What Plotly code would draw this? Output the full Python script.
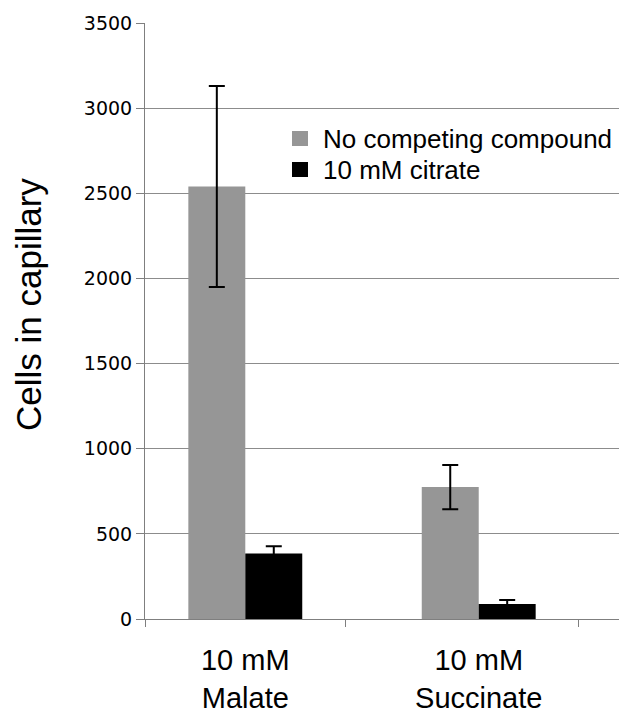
import plotly.graph_objects as go

categories = ["10 mM<br>Malate", "10 mM<br>Succinate"]
series_names = ["No competing compound", "10 mM citrate"]
series_colors = ["#969696", "#000000"]
no_competing = [2540, 775]
no_competing_err = [590, 130]
citrate = [385, 88]
citrate_err = [42, 24]
y_ticks = [0, 500, 1000, 1500, 2000, 2500, 3000, 3500]

xpos = list(range(len(categories)))
bw = 0.244

fig = go.Figure()
fig.add_trace(go.Bar(
    x=xpos, y=no_competing, name=series_names[0],
    width=bw, offset=-bw,
    marker=dict(color=series_colors[0], line=dict(width=0)),
    error_y=dict(type="data", array=no_competing_err, color="black", thickness=2, width=8, visible=True),
))
fig.add_trace(go.Bar(
    x=xpos, y=citrate, name=series_names[1],
    width=bw, offset=0,
    marker=dict(color=series_colors[1], line=dict(width=0)),
    error_y=dict(type="data", array=citrate_err, color="black", thickness=2, width=8, visible=True),
))

L, R, T, B = 145, 4, 23, 94
W, H = 623, 713
pw, ph = W - L - R, H - T - B


def px2paper(px, py):
    return (px - L) / pw, (H - B - py) / ph


shapes = []
annotations = []
# manual legend
sq_tops = [131, 162]
for name, col, top in zip(series_names, series_colors, sq_tops):
    x0, y0 = px2paper(292, top + 15)
    x1, y1 = px2paper(308, top)
    shapes.append(dict(type="rect", xref="paper", yref="paper", x0=x0, x1=x1, y0=y0, y1=y1,
                       fillcolor=col, line=dict(width=0)))
    tx, ty = px2paper(321, top + 8)
    annotations.append(dict(text=name, xref="paper", yref="paper", x=tx, y=ty,
                            xanchor="left", yanchor="middle", showarrow=False,
                            font=dict(family="Liberation Sans, Arial", size=26, color="black")))

annotations.append(dict(
    text="Cells in capillary", textangle=-90,
    xref="paper", yref="paper",
    x=(28 - L) / pw, y=(H - B - 305) / ph,
    xanchor="center", yanchor="middle", showarrow=False,
    font=dict(family="Liberation Sans, Arial", size=35, color="black"),
))

fig.update_layout(
    width=W, height=H,
    margin=dict(l=L, r=R, t=T, b=B, autoexpand=False),
    plot_bgcolor="white", paper_bgcolor="white",
    barmode="overlay",
    showlegend=False,
    xaxis=dict(
        range=[-0.4297, 1.601],
        tickvals=xpos, ticktext=categories, ticks="",
        ticklabelstandoff=15, automargin=False,
        tickfont=dict(family="Liberation Sans, Arial", size=29, color="black"),
        showline=True, linecolor="#7f7f7f", linewidth=1,
        showgrid=False, zeroline=False,
        minor=dict(tickvals=[-0.4297, 0.4285, 1.4285], ticks="outside", ticklen=7,
                   tickcolor="#7f7f7f", tickwidth=1, showgrid=False),
    ),
    yaxis=dict(
        range=[0, 3500], tickvals=y_ticks, automargin=False,
        ticks="outside", ticklen=8, tickcolor="#7f7f7f",
        tickfont=dict(family="DejaVu Sans, Verdana", size=19, color="black"),
        showline=True, linecolor="#7f7f7f", linewidth=1,
        showgrid=True, gridcolor="#8c8c8c", gridwidth=1,
        zeroline=False,
    ),
    shapes=shapes,
    annotations=annotations,
)

fig.write_html("out.html")
